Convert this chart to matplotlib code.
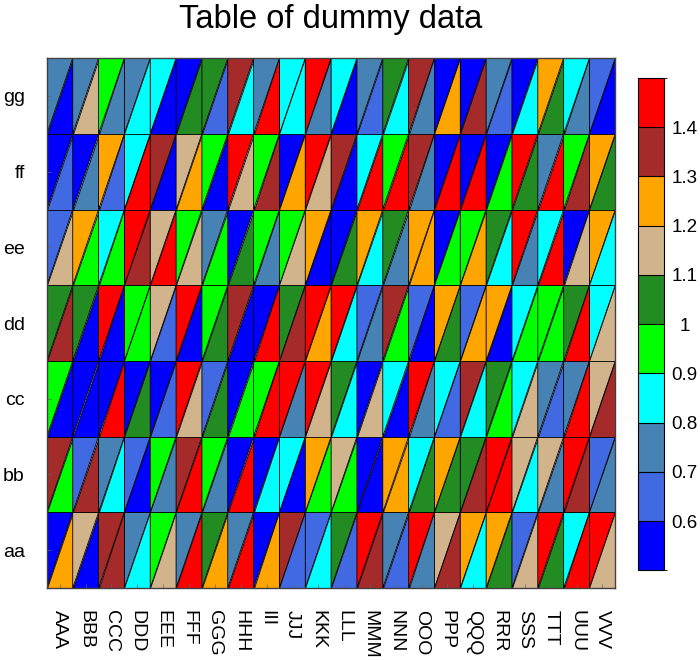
import matplotlib
matplotlib.use("Agg")
import matplotlib.pyplot as plt
import matplotlib.tri as mtri
from matplotlib.colors import ListedColormap, BoundaryNorm
from matplotlib.cm import ScalarMappable
import numpy as np

plt.rcParams['font.family'] = ['Liberation Sans', 'DejaVu Sans']

col_labels = ["AAA", "BBB", "CCC", "DDD", "EEE", "FFF", "GGG", "HHH", "III", "JJJ", "KKK",
              "LLL", "MMM", "NNN", "OOO", "PPP", "QQQ", "RRR", "SSS", "TTT", "UUU", "VVV"]
row_labels = ["aa", "bb", "cc", "dd", "ee", "ff", "gg"]

levels = [0.6, 0.7, 0.8, 0.9, 1.0, 1.1, 1.2, 1.3, 1.4]
colors = ["blue", "royalblue", "steelblue", "cyan", "lime", "forestgreen",
          "tan", "orange", "brown", "red"]

# upper-left triangle values, rows listed top (gg) to bottom (aa)
upper_left = [
    [0.75, 0.75, 0.95, 0.75, 0.85, 0.55, 1.05, 1.35, 0.75, 0.85, 1.45, 0.85, 0.75, 1.05, 1.35, 0.55, 0.55, 0.75, 0.55, 1.25, 0.85, 0.65],
    [0.55, 0.55, 1.25, 0.85, 1.35, 1.15, 0.95, 1.45, 0.95, 0.55, 1.45, 1.35, 0.85, 0.95, 1.35, 0.55, 0.55, 0.55, 1.45, 0.75, 0.95, 1.25],
    [0.65, 1.25, 0.85, 1.45, 1.15, 0.95, 0.75, 0.55, 0.95, 0.95, 1.25, 0.55, 1.25, 1.05, 1.25, 0.55, 0.95, 1.05, 1.45, 0.85, 0.55, 1.25],
    [1.05, 1.05, 1.45, 0.95, 1.15, 1.45, 0.95, 1.35, 0.55, 1.05, 1.45, 1.45, 0.65, 1.35, 0.65, 1.25, 0.65, 1.25, 0.85, 0.95, 1.05, 0.85],
    [0.95, 0.55, 0.55, 0.55, 0.55, 1.45, 0.65, 0.55, 0.95, 1.45, 1.45, 1.05, 0.55, 0.85, 1.45, 0.85, 1.35, 1.05, 0.85, 0.75, 0.75, 1.15],
    [1.35, 0.65, 0.75, 0.65, 0.95, 1.35, 0.95, 0.55, 0.55, 0.85, 1.25, 1.15, 0.55, 1.25, 0.85, 1.25, 1.05, 1.45, 1.15, 1.15, 1.45, 0.65],
    [0.55, 1.15, 1.35, 0.75, 0.95, 0.75, 1.05, 0.75, 0.55, 1.35, 0.65, 1.05, 1.45, 0.75, 1.45, 1.15, 1.25, 1.25, 0.65, 1.45, 0.85, 1.45],
]

# lower-right triangle values, rows listed top (gg) to bottom (aa)
lower_right = [
    [0.55, 1.15, 0.75, 0.85, 0.55, 1.05, 0.65, 0.85, 1.45, 0.85, 0.75, 0.55, 0.65, 0.85, 0.75, 1.25, 1.35, 0.65, 0.85, 1.05, 0.75, 0.55],
    [0.65, 0.75, 0.65, 1.45, 0.55, 1.25, 0.55, 1.15, 1.35, 1.25, 1.15, 0.55, 1.45, 1.45, 0.75, 1.45, 1.45, 0.95, 1.05, 1.45, 1.35, 1.05],
    [1.15, 0.95, 0.95, 1.35, 1.45, 1.15, 0.95, 1.05, 0.75, 1.15, 0.55, 1.05, 0.85, 0.75, 1.25, 0.95, 1.25, 0.85, 0.75, 1.45, 1.15, 0.85],
    [1.35, 0.55, 0.55, 0.95, 0.65, 0.55, 1.05, 0.55, 1.45, 1.35, 1.25, 0.85, 0.75, 0.95, 0.55, 1.05, 1.25, 0.55, 0.95, 0.95, 1.45, 1.15],
    [0.55, 0.55, 1.45, 1.05, 0.65, 1.15, 1.05, 0.95, 1.45, 0.75, 1.15, 0.85, 1.15, 0.55, 0.75, 0.65, 0.85, 0.95, 1.15, 0.65, 1.45, 1.35],
    [0.95, 1.35, 0.85, 0.55, 0.75, 1.45, 0.75, 1.45, 0.85, 0.55, 0.95, 0.95, 0.55, 1.25, 1.05, 1.05, 1.35, 1.45, 0.85, 0.75, 1.35, 0.75],
    [1.25, 0.55, 1.35, 0.85, 1.15, 1.45, 1.25, 1.45, 1.25, 0.65, 0.85, 0.65, 1.35, 0.65, 0.75, 1.35, 0.85, 1.05, 1.15, 1.05, 1.45, 1.15],
]


def build_triangles(ncol, nrow):
    # grid nodes, then two triangles per cell split along the bottom-left/top-right diagonal
    xs, ys = np.meshgrid(np.arange(ncol + 1), np.arange(nrow + 1))
    node = lambda i, j: j * (ncol + 1) + i
    tris = []
    for j in range(nrow):
        for i in range(ncol):
            bl, br, tl, tr = node(i, j), node(i + 1, j), node(i, j + 1), node(i + 1, j + 1)
            tris.append([bl, tr, tl])
            tris.append([bl, br, tr])
    return mtri.Triangulation(xs.ravel(), ys.ravel(), tris)


ncol, nrow = len(col_labels), len(row_labels)
ul = np.array(upper_left)[::-1]
lr = np.array(lower_right)[::-1]
face_vals = np.stack([ul, lr], axis=-1).ravel()

cmap = ListedColormap(colors)
bounds = [0.5] + levels + [1.5]
norm = BoundaryNorm(bounds, cmap.N)

fig = plt.figure(figsize=(7, 6.6), dpi=100)
ax = fig.add_axes([0.067, 0.109, 0.812, 0.803])

tri = build_triangles(ncol, nrow)
ax.tripcolor(tri, facecolors=face_vals, cmap=cmap, norm=norm,
             edgecolors="black", linewidth=0.6)

ax.set_xlim(0, ncol)
ax.set_ylim(0, nrow)
ax.set_xticks(np.arange(ncol) + 0.5)
ax.set_xticklabels(col_labels, rotation=-90, fontsize=14)
ax.set_yticks(np.arange(nrow) + 0.5)
ax.set_yticklabels(row_labels, fontsize=14)
ax.tick_params(axis="x", direction="in", length=3, width=0.5, color="0.4", pad=16)
ax.tick_params(axis="y", direction="in", length=3, width=0.5, color="0.4", pad=16)
for lbl in ax.get_xticklabels():
    lbl.set_va("top")
for sp in ax.spines.values():
    sp.set_linewidth(1.0)
    sp.set_color("0.25")

ax.set_title("Table of dummy data", fontsize=23.5, pad=22)

cax = fig.add_axes([0.911, 0.136, 0.037, 0.746])
cb = fig.colorbar(ScalarMappable(norm=norm, cmap=cmap), cax=cax, ticks=levels,
                  drawedges=True)
cb.ax.set_yticklabels([f"{v:g}" for v in levels])
cb.ax.tick_params(length=0, labelsize=13.5, pad=15)
for lbl in cb.ax.get_yticklabels():
    lbl.set_ha("center")
cb.outline.set_linewidth(0.8)
cb.dividers.set_linewidth(0.8)

fig.savefig("out.png", dpi=100)
